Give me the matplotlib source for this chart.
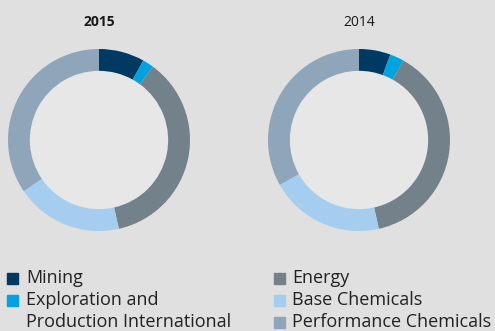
import matplotlib
matplotlib.use("Agg")
import matplotlib.pyplot as plt
from matplotlib.patches import Rectangle, Circle

segments = ["Mining", "Exploration and\nProduction International", "Energy",
            "Base Chemicals", "Performance Chemicals"]
colors = ["#003a63", "#00a3e0", "#73828a", "#a5cdef", "#8fa5b9"]
share_2015 = [8.1, 2.0, 36.4, 19.0, 34.5]
share_2014 = [5.6, 2.5, 38.4, 20.3, 33.2]
years = ["2015", "2014"]

W, H = 495, 331
bg = "#dfe0df"
inner = "#e7e7e7"
plt.rcParams["font.family"] = ["Open Sans", "DejaVu Sans"]

fig = plt.figure(figsize=(W / 100, H / 100), dpi=100, facecolor=bg)

R = 91
centers = [(99, 140), (359, 140)]
for (cx, cy), vals, year, bold in zip(centers, [share_2015, share_2014], years, [True, False]):
    ax = fig.add_axes([(cx - R) / W, (H - cy - R) / H, 2 * R / W, 2 * R / H])
    ax.pie(vals, colors=colors, startangle=90, counterclock=False, radius=1,
           wedgeprops=dict(width=0.24, linewidth=0))
    ax.add_patch(Circle((0, 0), 0.76, color=inner, zorder=0))
    ax.set_xlim(-1, 1)
    ax.set_ylim(-1, 1)
    ax.axis("off")
    fig.text(cx / W, 1 - 22 / H, year, ha="center", va="center", fontsize=10,
             fontweight="bold" if bold else "normal", color="#1a1a1a")

# legend, two columns drawn by hand
rows = [278, 300, 322]
left = [(0, 0), (1, 1)]
right = [(2, 0), (3, 1), (4, 2)]
for items, sx, tx in [(left, 7, 26), (right, 274, 292)]:
    for idx, r in items:
        y = rows[r]
        fig.patches.append(Rectangle((sx / W, 1 - (y + 5.5) / H), 11 / W, 11 / H,
                                     transform=fig.transFigure, color=colors[idx]))
        lines = segments[idx].split("\n")
        for k, line in enumerate(lines):
            fig.text(tx / W, 1 - (y + 22 * k) / H, line, ha="left", va="center",
                     fontsize=13, color="#222222")

fig.savefig("out.png", dpi=100, facecolor=bg)
